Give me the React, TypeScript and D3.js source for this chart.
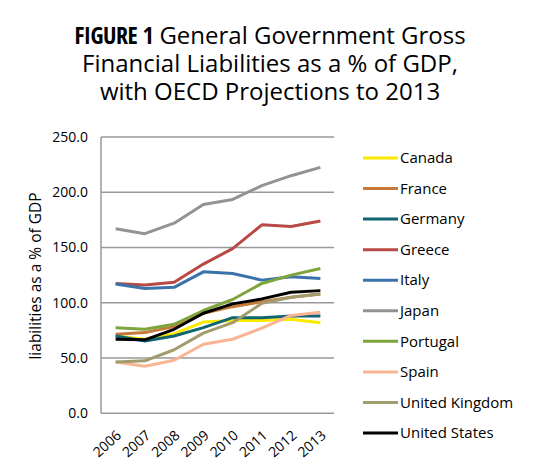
import * as d3 from "d3";

const years = ["2006", "2007", "2008", "2009", "2010", "2011", "2012", "2013"];
const yTicks = [0, 50, 100, 150, 200, 250];

const canada = [70, 67, 72, 82.5, 84, 84, 85, 82];
const france = [71.5, 73, 78.5, 90.5, 96.5, 101, 105, 108];
const germany = [70, 65.5, 70, 77.5, 86.5, 86.5, 88, 88];
const greece = [117.5, 116, 118.5, 135, 149, 170.5, 169, 174];
const italy = [117, 113, 114, 128, 126.5, 120.5, 123.5, 122];
const japan = [167, 162.5, 172, 189, 193.5, 206, 215, 222.5];
const portugal = [77.5, 76, 80.5, 93, 103, 117.5, 125, 131];
const spain = [46.5, 42.5, 48, 62.5, 67, 77, 88.5, 91.5];
const unitedKingdom = [46.5, 47.5, 57.5, 72.5, 82, 99.5, 105, 108];
const unitedStates = [67, 66.5, 76, 90.5, 99, 103.5, 109.5, 111];

const seriesNames = ["Canada", "France", "Germany", "Greece", "Italy", "Japan", "Portugal", "Spain", "United Kingdom", "United States"];
const seriesValues = [canada, france, germany, greece, italy, japan, portugal, spain, unitedKingdom, unitedStates];
const seriesColors = ["#fbe900", "#c8793a", "#106571", "#b84945", "#3a73a9", "#939393", "#7da53c", "#f9b593", "#a29b6c", "#000000"];

const FONT = "'Open Sans', sans-serif";

export default function App() {
  const W = 540, H = 473;
  const x = d3.scaleBand<string>().domain(years).range([101, 335]);
  const y = d3.scaleLinear().domain([0, 250]).range([413.3, 137]);
  const cx = (yr: string) => (x(yr) ?? 0) + x.bandwidth() / 2;

  const line = d3.line<number>()
    .x((_, i) => cx(years[i]))
    .y((d) => y(d));

  const legend = d3.scalePoint<string>().domain(seriesNames).range([158, 433]);

  return (
    <svg width={W} height={H} style={{ position: "absolute", left: 0, top: 0, background: "#fff" }} fontFamily={FONT}>
      <g textAnchor="middle" fontSize={24} fill="#000">
        <text x={270} y={44}>
          <tspan fontWeight={700} fontFamily="'Open Sans Condensed', 'Liberation Sans Narrow', 'Open Sans', sans-serif" letterSpacing={-0.5}>FIGURE 1</tspan>
          <tspan> General Government Gross</tspan>
        </text>
        <text x={270} y={72}>Financial Liabilities as a % of GDP,</text>
        <text x={270} y={100}>with OECD Projections to 2013</text>
      </g>

      {yTicks.map((t) => (
        <g key={t}>
          <line x1={101} x2={334} y1={y(t)} y2={y(t)} stroke="#999" strokeWidth={1.5} />
          <text x={88} y={y(t)} dy="0.35em" textAnchor="end" fontSize={14} fill="#000">{t.toFixed(1)}</text>
        </g>
      ))}
      <line x1={101} x2={101} y1={y(250)} y2={y(0)} stroke="#999" strokeWidth={1.5} />

      {years.map((yr) => (
        <text key={yr} transform={`translate(${cx(yr)},${y(0) + 16}) rotate(-42)`} textAnchor="end" dy="0.7em" fontSize={14} fill="#000">{yr}</text>
      ))}

      <text transform="translate(41,276) rotate(-90)" textAnchor="middle" fontSize={15.5} fill="#000">liabilities as a % of GDP</text>

      {seriesValues.map((vals, i) => (
        <path key={seriesNames[i]} d={line(vals) ?? ""} fill="none" stroke={seriesColors[i]} strokeWidth={3} strokeLinejoin="round" />
      ))}

      {seriesNames.map((name, i) => (
        <g key={name} transform={`translate(0,${legend(name)})`}>
          <line x1={363} x2={398} stroke={seriesColors[i]} strokeWidth={3} />
          <text x={400} dy="0.35em" fontSize={15} fill="#000">{name}</text>
        </g>
      ))}
    </svg>
  );
}
